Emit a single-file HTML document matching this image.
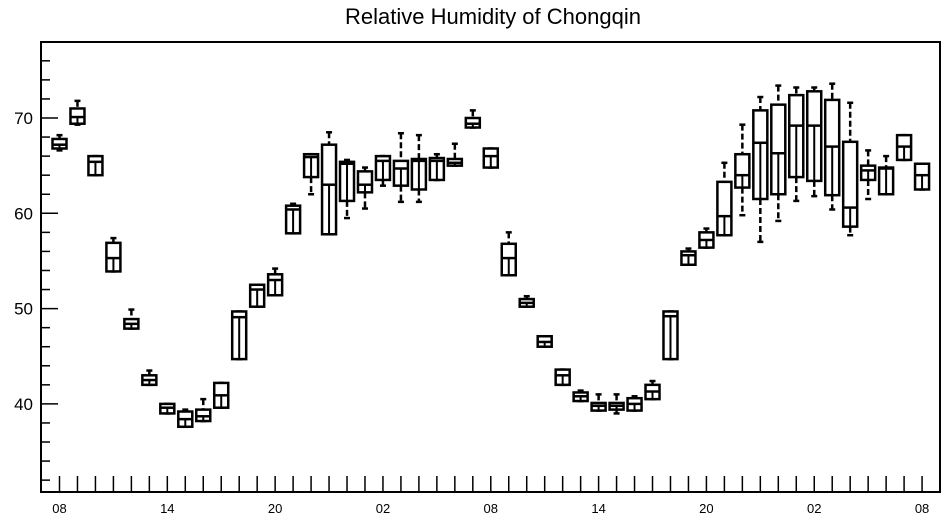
<!DOCTYPE html>
<html><head><meta charset="utf-8"><style>
body{margin:0;background:#fff;}
svg text{font-family:"Liberation Sans",sans-serif;}
</style></head><body>
<svg id="chart" width="947" height="520" viewBox="0 0 947 520" xmlns="http://www.w3.org/2000/svg">
<text x="493" y="24" font-size="22" text-anchor="middle">Relative Humidity of Chongqin</text>
<rect x="41" y="42" width="899" height="450" fill="none" stroke="#000" stroke-width="2"/>
<g id="axes"></g>
<g id="boxes"></g>
</svg>
<script>
const hourLabels = ["08","14","20","02","08","14","20","02","08"];
const yTickLabels = [40,50,60,70];
const q1 = [66.8,69.4,64,53.9,47.9,42,39,37.6,38.2,39.6,44.7,50.2,51.4,57.9,63.8,57.8,61.3,62.2,63.5,62.9,62.5,63.5,65,69,64.8,53.5,50.2,46,42,40.3,39.3,39.4,39.3,40.5,44.7,54.6,56.4,57.7,62.7,61.5,62,63.8,63.4,61.9,58.6,63.5,62,65.6,62.5];
const med = [67.2,70.1,65.4,55.3,48.4,42.5,39.6,38.4,38.7,40.9,49.1,52,53,60.4,65.9,63,65.2,63,65.5,64.7,65.5,65.5,65.3,69.4,66,55.3,50.6,46.5,43,40.8,39.8,39.8,40,41.3,49.2,55.6,57.2,59.7,64,67.4,66.3,69.2,69.2,67,60.6,64.5,64.7,67,64];
const q3 = [67.8,71,66,56.9,48.9,43,40,39.2,39.4,42.2,49.7,52.5,53.6,60.8,66.2,67.2,65.4,64.4,66,65.5,65.7,65.8,65.7,70,66.8,56.8,51,47.1,43.6,41.2,40.1,40.1,40.6,42,49.7,56,58,63.3,66.2,70.8,71.4,72.4,72.8,71.9,67.5,65,64.8,68.2,65.2];
const whLo = [66.6,69.3,64,53.9,47.9,42,39,37.6,38.2,39.6,44.7,50.2,51.4,57.9,62,57.8,59.5,60.5,62.9,61.2,61.2,63.5,65,69,64.8,53.5,50.2,46,42,40.3,39.3,39,39.3,40.5,44.7,54.6,56.4,57.7,59.8,57,59.2,61.3,61.8,60.4,57.7,61.5,62,65.6,62.5];
const whHi = [68.2,71.8,66,57.4,49.9,43.5,40,39.4,40.5,42.2,49.7,52.5,54.2,61,66.2,68.5,65.6,64.8,66,68.4,68.2,66.2,67.3,70.8,66.8,58,51.3,47.1,43.6,41.4,41,41,40.8,42.4,49.7,56.3,58.4,65.3,69.3,72.2,73.4,73.2,73.2,73.6,71.6,66.6,66,68.2,65.2];

const NS="http://www.w3.org/2000/svg";
const xS = i => 59.5 + 17.97*i;
const yS = v => 118 + (70 - v)*9.53;
function mk(tag, attrs, parent){const e=document.createElementNS(NS,tag);for(const k in attrs)e.setAttribute(k,attrs[k]);parent.appendChild(e);return e;}
const axes=document.getElementById('axes');
const boxes=document.getElementById('boxes');
for(let v=32; v<=76; v+=2){
  const major = v%10===0;
  const t=mk('line',{x1:41,x2:major?58:50,y1:yS(v),y2:yS(v),stroke:'#000','stroke-width':1.5},axes);
  
  
}
yTickLabels.forEach(v=>{
  const t=mk('text',{x:33,y:yS(v)+6,'font-size':17,'text-anchor':'end'},axes);
  t.textContent=v;
  
  
});
for(let i=0;i<=48;i++){
  const t=mk('line',{x1:xS(i),x2:xS(i),y1:476,y2:492,stroke:'#000','stroke-width':1.5},axes);
  
  
}
hourLabels.forEach((l,k)=>{
  const t=mk('text',{x:xS(k*6),y:513,'font-size':13,'text-anchor':'middle'},axes);
  t.textContent=l;
  
  
});
for(let i=0;i<q1.length;i++){
  const g=mk('g',{},boxes);
  
  
  const x=xS(i), w=14;
  mk('line',{x1:x,x2:x,y1:yS(whHi[i]),y2:yS(q3[i]),stroke:'#000','stroke-width':2.5,'stroke-dasharray':'6,3'},g);
  mk('line',{x1:x,x2:x,y1:yS(q1[i]),y2:yS(whLo[i]),stroke:'#000','stroke-width':2.5,'stroke-dasharray':'6,3'},g);
  mk('line',{x1:x-3,x2:x+3,y1:yS(whHi[i]),y2:yS(whHi[i]),stroke:'#000','stroke-width':2.5},g);
  mk('line',{x1:x-3,x2:x+3,y1:yS(whLo[i]),y2:yS(whLo[i]),stroke:'#000','stroke-width':2.5},g);
  mk('rect',{x:x-w/2,y:yS(q3[i]),width:w,height:Math.max(yS(q1[i])-yS(q3[i]),3),fill:'#fff',stroke:'#000','stroke-width':2.5},g);
  mk('line',{x1:x-w/2,x2:x+w/2,y1:yS(med[i]),y2:yS(med[i]),stroke:'#000','stroke-width':2.5},g);
  mk('line',{x1:x,x2:x,y1:yS(med[i]),y2:yS(q1[i]),stroke:'#000','stroke-width':2},g);
}
</script>
</body></html>
